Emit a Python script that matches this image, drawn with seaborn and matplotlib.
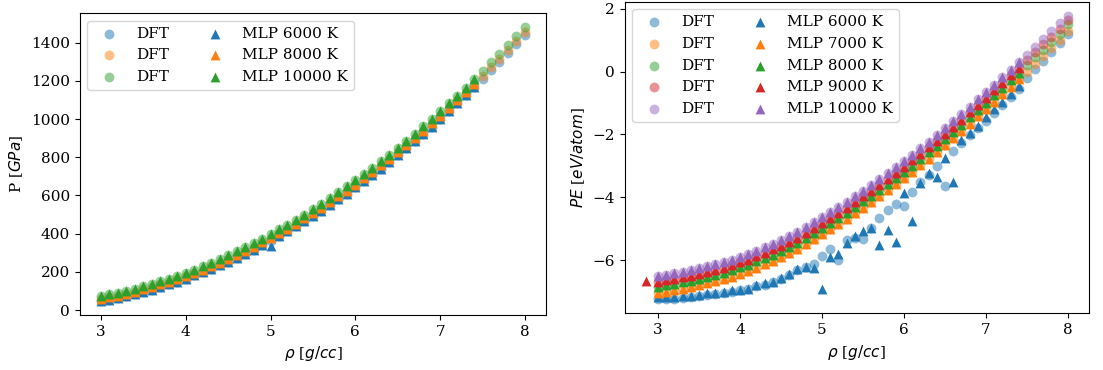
import numpy as np
import matplotlib
matplotlib.use("Agg")
import matplotlib.pyplot as plt
import seaborn as sns

plt.rcParams['font.family'] = 'serif'
plt.rcParams['mathtext.fontset'] = 'dejavusans'
plt.rcParams['font.size'] = 11

# densities (g/cc)
rho_dft = [round(3.0 + 0.1 * i, 1) for i in range(51)]
rho_mlp = rho_dft[:45]
rho_mlp_9000 = [2.85] + rho_mlp

# ---------------- Left panel: pressure (GPa) ----------------
p_dft_6000 = [45, 54, 62, 72, 83, 94, 107, 120, 134, 148, 164, 181, 197, 215, 234, 254, 274, 295, 317, 339,
              363, 388, 412, 438, 465, 492, 521, 550, 580, 610, 642, 675, 707, 741, 776, 812, 848, 885, 923, 961,
              1001, 1042, 1082, 1124, 1167, 1210, 1255, 1300, 1346, 1392, 1440]
p_dft_8000 = [58, 67, 76, 85, 96, 108, 121, 134, 147, 162, 178, 195, 211, 229, 248, 268, 289, 309, 331, 354,
              378, 402, 427, 453, 480, 508, 536, 565, 595, 626, 657, 690, 723, 757, 792, 827, 864, 901, 939, 977,
              1017, 1058, 1099, 1141, 1183, 1227, 1272, 1317, 1362, 1409, 1457]
p_dft_10000 = [73, 82, 91, 101, 112, 124, 137, 150, 164, 179, 195, 212, 229, 247, 266, 286, 307, 328, 350, 373,
               397, 422, 447, 473, 500, 528, 557, 586, 616, 647, 679, 712, 745, 779, 814, 850, 887, 924, 962, 1001,
               1041, 1082, 1123, 1165, 1208, 1252, 1297, 1342, 1388, 1435, 1483]
p_mlp_6000 = [45, 54, 62, 72, 83, 94, 107, 120, 134, 148, 164, 181, 197, 215, 234, 254, 274, 295, 317, 339,
              338, 388, 412, 438, 465, 492, 521, 550, 580, 610, 642, 675, 707, 741, 776, 812, 848, 885, 923, 961,
              1001, 1042, 1082, 1124, 1167]
p_mlp_8000 = [58, 67, 76, 85, 96, 108, 121, 134, 147, 162, 178, 195, 211, 229, 248, 268, 289, 309, 331, 354,
              378, 402, 427, 453, 480, 508, 536, 565, 595, 626, 657, 690, 723, 757, 792, 827, 864, 901, 939, 977,
              1017, 1058, 1099, 1141, 1183]
p_mlp_10000 = [73, 82, 91, 101, 112, 124, 137, 150, 164, 179, 195, 212, 229, 247, 266, 286, 307, 328, 350, 373,
               397, 422, 447, 473, 500, 528, 557, 586, 616, 647, 679, 712, 745, 779, 814, 850, 887, 924, 962, 1001,
               1041, 1082, 1123, 1165, 1208]

# ---------------- Right panel: potential energy (eV/atom) ----------------
pe_dft_6000 = [-7.23, -7.24, -7.23, -7.20, -7.18, -7.15, -7.11, -7.09, -7.05, -7.00,
               -6.96, -6.93, -6.82, -6.78, -6.71, -6.61, -6.47, -6.31, -6.22, -6.12,
               -5.87, -5.63, -5.99, -5.36, -5.29, -5.33, -4.98, -4.66, -4.42, -4.20,
               -4.27, -3.84, -3.50, -3.30, -3.00, -3.63, -2.52, -2.28, -2.03, -1.80,
               -1.57, -1.32, -1.07, -0.82, -0.55, -0.20, 0.07, 0.34, 0.62, 0.90, 1.18]
pe_dft_7000 = [-7.04, -7.00, -6.96, -6.91, -6.86, -6.80, -6.74, -6.67, -6.60, -6.52,
               -6.43, -6.34, -6.24, -6.13, -6.02, -5.90, -5.77, -5.64, -5.50, -5.34,
               -5.18, -5.02, -4.86, -4.69, -4.51, -4.33, -4.15, -3.97, -3.78, -3.59,
               -3.39, -3.19, -2.98, -2.77, -2.56, -2.34, -2.12, -1.89, -1.66, -1.43,
               -1.20, -0.96, -0.72, -0.48, -0.24, 0.00, 0.25, 0.50, 0.75, 1.00, 1.30]
pe_dft_8000 = [-6.84, -6.80, -6.76, -6.71, -6.66, -6.60, -6.54, -6.47, -6.40, -6.32,
               -6.23, -6.14, -6.04, -5.93, -5.82, -5.70, -5.57, -5.44, -5.30, -5.14,
               -4.98, -4.82, -4.66, -4.49, -4.31, -4.13, -3.95, -3.77, -3.58, -3.39,
               -3.19, -2.99, -2.78, -2.57, -2.36, -2.14, -1.92, -1.69, -1.46, -1.23,
               -1.00, -0.76, -0.52, -0.28, -0.04, 0.20, 0.45, 0.70, 0.95, 1.20, 1.50]
pe_dft_9000 = [-6.68, -6.64, -6.60, -6.55, -6.50, -6.44, -6.38, -6.31, -6.24, -6.16,
               -6.07, -5.98, -5.88, -5.77, -5.66, -5.54, -5.41, -5.28, -5.14, -4.98,
               -4.82, -4.66, -4.50, -4.33, -4.15, -3.97, -3.79, -3.61, -3.42, -3.23,
               -3.03, -2.83, -2.62, -2.41, -2.20, -1.98, -1.76, -1.53, -1.30, -1.07,
               -0.84, -0.60, -0.36, -0.12, 0.12, 0.36, 0.61, 0.86, 1.11, 1.36, 1.63]
pe_dft_10000 = [-6.50, -6.46, -6.42, -6.37, -6.32, -6.26, -6.20, -6.13, -6.06, -5.98,
                -5.89, -5.80, -5.70, -5.59, -5.48, -5.36, -5.23, -5.10, -4.96, -4.80,
                -4.64, -4.48, -4.32, -4.15, -3.97, -3.79, -3.61, -3.43, -3.24, -3.05,
                -2.85, -2.65, -2.44, -2.23, -2.02, -1.80, -1.58, -1.35, -1.12, -0.89,
                -0.66, -0.42, -0.18, 0.06, 0.30, 0.54, 0.79, 1.04, 1.29, 1.54, 1.77]

pe_mlp_6000 = [-7.18, -7.18, -7.18, -7.15, -7.13, -7.11, -7.06, -7.06, -7.02, -6.96,
               -6.94, -6.91, -6.78, -6.74, -6.68, -6.58, -6.43, -6.28, -6.22, -6.24,
               -6.93, -5.89, -5.81, -5.44, -5.23, -5.07, -4.97, -5.52, -5.05, -5.43,
               -3.86, -4.75, -3.55, -3.24, -3.37, -2.74, -3.52, -2.19, -1.94, -1.72,
               -1.46, -1.19, -0.96, -0.72, -0.47]
pe_mlp_7000 = [-7.04, -7.00, -6.96, -6.91, -6.86, -6.80, -6.74, -6.67, -6.60, -6.52,
               -6.43, -6.34, -6.24, -6.13, -6.02, -5.90, -5.77, -5.64, -5.50, -5.34,
               -5.18, -5.02, -4.86, -4.69, -4.51, -4.33, -4.15, -3.97, -3.78, -3.59,
               -3.39, -3.19, -2.98, -2.77, -2.56, -2.34, -2.12, -1.89, -1.66, -1.43,
               -1.20, -0.96, -0.72, -0.48, -0.24]
pe_mlp_8000 = [-6.84, -6.80, -6.76, -6.71, -6.66, -6.60, -6.54, -6.47, -6.40, -6.32,
               -6.23, -6.14, -6.04, -5.93, -5.82, -5.70, -5.57, -5.44, -5.30, -5.14,
               -4.98, -4.82, -4.66, -4.49, -4.31, -4.13, -3.95, -3.77, -3.58, -3.39,
               -3.19, -2.99, -2.78, -2.57, -2.36, -2.14, -1.92, -1.69, -1.46, -1.23,
               -1.00, -0.76, -0.52, -0.28, -0.04]
pe_mlp_9000 = [-6.67,
               -6.68, -6.64, -6.60, -6.55, -6.50, -6.44, -6.38, -6.31, -6.24, -6.16,
               -6.07, -5.98, -5.88, -5.77, -5.66, -5.54, -5.41, -5.28, -5.14, -4.98,
               -4.82, -4.66, -4.50, -4.33, -4.15, -3.97, -3.79, -3.61, -3.42, -3.23,
               -3.03, -2.83, -2.62, -2.41, -2.20, -1.98, -1.76, -1.53, -1.30, -1.07,
               -0.84, -0.60, -0.36, -0.12, 0.12]
pe_mlp_10000 = [-6.50, -6.46, -6.42, -6.37, -6.32, -6.26, -6.20, -6.13, -6.06, -5.98,
                -5.89, -5.80, -5.70, -5.59, -5.48, -5.36, -5.23, -5.10, -4.96, -4.80,
                -4.64, -4.48, -4.32, -4.15, -3.97, -3.79, -3.61, -3.43, -3.24, -3.05,
                -2.85, -2.65, -2.44, -2.23, -2.02, -1.80, -1.58, -1.35, -1.12, -0.89,
                -0.66, -0.42, -0.18, 0.06, 0.30]

left_labels = ["MLP 6000 K", "MLP 8000 K", "MLP 10000 K"]
right_labels = ["MLP 6000 K", "MLP 7000 K", "MLP 8000 K", "MLP 9000 K", "MLP 10000 K"]

colors = sns.color_palette("tab10")

fig = plt.figure(figsize=(11.03, 3.70), dpi=100)
ax1 = fig.add_axes([0.0723, 0.1481, 0.4228, 0.8165])
ax2 = fig.add_axes([0.5663, 0.1532, 0.4210, 0.8422])

S = 50
left_dft = [p_dft_6000, p_dft_8000, p_dft_10000]
left_mlp = [p_mlp_6000, p_mlp_8000, p_mlp_10000]
for i, y in enumerate(left_dft):
    sns.scatterplot(x=rho_dft, y=y, ax=ax1, color=colors[i], alpha=0.5, s=S,
                    marker='o', linewidth=0, label="DFT")
for i, y in enumerate(left_mlp):
    sns.scatterplot(x=rho_mlp, y=y, ax=ax1, color=colors[i], s=S,
                    marker='^', linewidth=0, label=left_labels[i])

right_dft = [pe_dft_6000, pe_dft_7000, pe_dft_8000, pe_dft_9000, pe_dft_10000]
right_mlp = [pe_mlp_6000, pe_mlp_7000, pe_mlp_8000, pe_mlp_9000, pe_mlp_10000]
for i, y in enumerate(right_dft):
    sns.scatterplot(x=rho_dft, y=y, ax=ax2, color=colors[i], alpha=0.5, s=S,
                    marker='o', linewidth=0, label="DFT")
for i, y in enumerate(right_mlp):
    xs = rho_mlp_9000 if i == 3 else rho_mlp
    sns.scatterplot(x=xs, y=y, ax=ax2, color=colors[i], s=S,
                    marker='^', linewidth=0, label=right_labels[i])

ax1.set_xlabel(r"$\rho$ [$g/cc$]")
ax1.set_ylabel(r"P [$GPa$]")
ax2.set_xlabel(r"$\rho$ [$g/cc$]")
ax2.set_ylabel(r"$PE$ [$eV/atom$]")
ax1.set_yticks([0, 200, 400, 600, 800, 1000, 1200, 1400])
ax2.set_yticks([-6, -4, -2, 0, 2])
for ax in (ax1, ax2):
    ax.set_xticks([3, 4, 5, 6, 7, 8])
    ax.legend(loc="upper left", ncol=2)

fig.savefig("out.png", dpi=100)
